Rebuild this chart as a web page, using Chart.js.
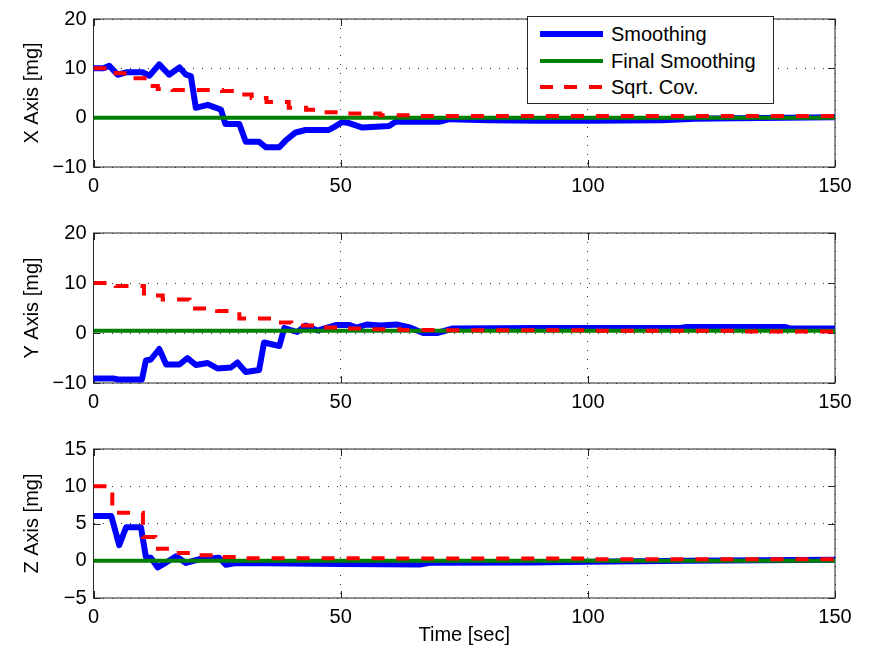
<!DOCTYPE html>
<html>
<head>
<meta charset="utf-8">
<script src="https://cdn.jsdelivr.net/npm/chart.js@4.4.0/dist/chart.umd.min.js"></script>
<style>
  body { margin: 0; background: #fff; }
  #page { position: relative; width: 871px; height: 656px; overflow: hidden; font-family: "Liberation Sans", Arial, Helvetica, sans-serif; }
  .plot { position: absolute; left: 0; }
  #legend { position: absolute; left: 527px; top: 16px; width: 245px; height: 86px; border: 1px solid #262626; background: #fff; font-size: 20px; color: #000; }
  #legend .row { position: absolute; left: 0; height: 26px; display: flex; align-items: center; white-space: nowrap; }
  #legend .sample { display: inline-block; width: 63px; margin-left: 12px; margin-right: 8px; }
  .s-blue { height: 6px; background: #0000ff; }
  .s-green { height: 4px; background: #008000; }
  .s-red { height: 4px; background: repeating-linear-gradient(to right, #ff0000 0 13px, transparent 13px 24.5px); }
</style>
</head>
<body>
<div id="page">
  <canvas id="chartX" class="plot" width="871" height="200" style="top:0px"></canvas>
  <canvas id="chartY" class="plot" width="871" height="202" style="top:214px"></canvas>
  <canvas id="chartZ" class="plot" width="871" height="226" style="top:430px"></canvas>
  <div id="legend">
    <div class="row" style="top:4px"><span class="sample s-blue"></span><span>Smoothing</span></div>
    <div class="row" style="top:31px"><span class="sample s-green"></span><span>Final Smoothing</span></div>
    <div class="row" style="top:57px"><span class="sample s-red"></span><span>Sqrt. Cov.</span></div>
  </div>
</div>
<script>
// data (time in sec, values in mg)
const xTicks = [0, 50, 100, 150];

// X axis
const tSmoothX = [0, 2, 3.2, 4.9, 6.6, 10, 11.3, 13.3, 15.3, 17.4, 18.7, 19.7, 20.7, 23.1, 24.8, 25.8, 26.7, 29.5, 30.8, 33.5, 34.9, 37.6, 38.9, 40.9, 42.9, 47.6, 49, 50.3, 51.7, 54.4, 59.8, 61.1, 69.9, 72, 80, 90, 100, 115, 121.7, 130, 140, 150];
const smoothX  = [10, 10, 10.5, 8.7, 9.2, 9.2, 8.5, 10.8, 8.7, 10.2, 8.7, 8.4, 2.0, 2.6, 2.0, 1.6, -1.3, -1.3, -4.9, -4.9, -6.0, -6.0, -4.6, -3.0, -2.5, -2.5, -1.7, -0.9, -1.1, -2.0, -1.7, -0.85, -0.85, -0.3, -0.5, -0.6, -0.6, -0.5, -0.2, -0.1, 0.0, 0.1];
const tFinalX = [0, 150];
const finalX  = [0, 0];
const tCovX = [0, 4.5, 8.5, 11, 13, 16, 26, 30.5, 32, 35, 39.5, 43, 46.5, 51.5, 58, 65, 150];
const covX  = [10, 9.0, 8.0, 6.4, 5.8, 5.6, 5.4, 4.7, 4.0, 3.2, 2.0, 1.6, 1.1, 0.85, 0.5, 0.35, 0.3];

// Y axis
const tSmoothY = [0, 4, 5, 9.8, 10.6, 11.6, 13.3, 14.7, 17.4, 19, 20.7, 23.1, 25.1, 27.8, 29.1, 30.8, 33.5, 34.5, 37.6, 38.6, 41.2, 42.9, 45.3, 49, 51.8, 53.2, 55.3, 58, 61.3, 64, 66.7, 69.5, 72.7, 90, 118.7, 120, 140, 141, 150];
const smoothY  = [-9.1, -9.1, -9.3, -9.3, -5.5, -5.3, -3.2, -6.3, -6.3, -5.0, -6.4, -6.0, -7.1, -6.9, -5.9, -7.8, -7.4, -1.9, -2.6, 1.0, 0.2, 1.5, 0.5, 1.6, 1.6, 1.07, 1.7, 1.5, 1.7, 1.1, 0.0, 0.0, 0.9, 1.0, 1.0, 1.2, 1.2, 0.9, 0.9];
const tFinalY = [0, 150];
const finalY  = [0.45, 0.45];
const tCovY = [0, 4.5, 10.2, 11, 14, 19.4, 20, 25, 29.5, 36, 40, 46, 51, 56, 62, 70, 100, 130, 150];
const covY  = [10, 9.4, 7.9, 7.5, 6.7, 5.5, 4.9, 4.4, 2.9, 2.1, 1.5, 1.1, 0.9, 0.75, 0.6, 0.55, 0.45, 0.3, 0.15];

// Z axis
const tSmoothZ = [0, 3.6, 5.2, 6.6, 9.6, 10.6, 11.6, 13, 14.3, 16.7, 18.7, 21.4, 25.4, 26.8, 28.8, 35, 50, 66, 68, 88, 100, 120, 150];
const smoothZ  = [6.0, 6.0, 2.1, 4.5, 4.5, 0.5, 0.4, -0.9, -0.4, 0.6, -0.3, 0.2, 0.4, -0.55, -0.3, -0.35, -0.45, -0.5, -0.28, -0.25, -0.15, 0.0, 0.15];
const tFinalZ = [0, 150];
const finalZ  = [0, 0];
const tCovZ = [0, 3.8, 10, 12.5, 16, 20, 24.5, 30, 60, 100, 150];
const covZ  = [10, 6.45, 3.2, 1.6, 1.05, 0.75, 0.5, 0.35, 0.3, 0.2, 0.15];

const FONT = { family: '"Liberation Sans", Arial, Helvetica, sans-serif', size: 20 };
Chart.defaults.color = '#000';
Chart.defaults.font = FONT;

function pts(t, v) {
  return t.map(function (x, i) { return { x: x, y: v[i] }; });
}

// box round the axes + inward tick marks, like matlab
const boxPlugin = {
  id: 'box',
  beforeDatasetsDraw(chart) {
    const ctx = chart.ctx, a = chart.chartArea;
    const sx = chart.scales.x, sy = chart.scales.y;
    ctx.save();
    ctx.strokeStyle = '#262626';
    ctx.lineWidth = 1;
    ctx.strokeRect(a.left, a.top, a.right - a.left, a.bottom - a.top);
    ctx.beginPath();
    sx.ticks.forEach(function (t) {
      const x = Math.round(sx.getPixelForValue(t.value)) + 0.5;
      ctx.moveTo(x, a.bottom); ctx.lineTo(x, a.bottom - 7);
      ctx.moveTo(x, a.top); ctx.lineTo(x, a.top + 7);
    });
    sy.ticks.forEach(function (t) {
      const y = Math.round(sy.getPixelForValue(t.value)) + 0.5;
      ctx.moveTo(a.left, y); ctx.lineTo(a.left + 7, y);
      ctx.moveTo(a.right, y); ctx.lineTo(a.right - 7, y);
    });
    ctx.stroke();
    ctx.restore();
  }
};

function makeChart(id, label, yMin, yMax, yStep, padTop, xHeight, showTime, ts, fs, cs) {
  return new Chart(id, {
    type: 'line',
    data: {
      datasets: [
        { data: pts(ts[0], ts[1]), borderColor: '#0000ff', borderWidth: 6, borderJoinStyle: 'round', borderCapStyle: 'round', pointRadius: 0, order: 3 },
        { data: pts(fs[0], fs[1]), borderColor: '#008000', borderWidth: 4, pointRadius: 0, order: 2 },
        { data: pts(cs[0], cs[1]), borderColor: '#ff0000', borderWidth: 4, borderDash: [13, 12], borderCapStyle: 'butt', stepped: true, pointRadius: 0, order: 1 }
      ]
    },
    options: {
      responsive: false,
      animation: false,
      layout: { padding: { left: 0, right: 36, top: padTop, bottom: 0 } },
      plugins: { legend: { display: false }, tooltip: { enabled: false } },
      scales: {
        x: {
          type: 'linear', min: 0, max: 150,
          afterBuildTicks: function (s) { s.ticks = xTicks.map(function (v) { return { value: v }; }); },
          ticks: { padding: 7, maxRotation: 0 },
          grid: { color: '#333', lineWidth: 1, drawTicks: false },
          border: { display: false, dash: [1, 8] },
          title: { display: showTime, text: 'Time [sec]', padding: { top: 0, bottom: 9 } },
          afterFit: function (s) { s.height = xHeight; }
        },
        y: {
          min: yMin, max: yMax,
          ticks: { stepSize: yStep, padding: 7, callback: function (v) { return String(v).replace('-', '\u2212'); } },
          grid: { color: '#333', lineWidth: 1, drawTicks: false },
          border: { display: false, dash: [1, 8] },
          title: { display: true, text: label, padding: { top: 20, bottom: 0 } },
          afterFit: function (s) { s.width = 93.5; }
        }
      }
    },
    plugins: [boxPlugin]
  });
}

makeChart('chartX', 'X Axis [mg]', -10, 20, 10, 14, 33, false, [tSmoothX, smoothX], [tFinalX, finalX], [tCovX, covX]);
makeChart('chartY', 'Y Axis [mg]', -10, 20, 10, 14.5, 33, false, [tSmoothY, smoothY], [tFinalY, finalY], [tCovY, covY]);
makeChart('chartZ', 'Z Axis [mg]', -5, 15, 5, 14, 58, true, [tSmoothZ, smoothZ], [tFinalZ, finalZ], [tCovZ, covZ]);
</script>
</body>
</html>
